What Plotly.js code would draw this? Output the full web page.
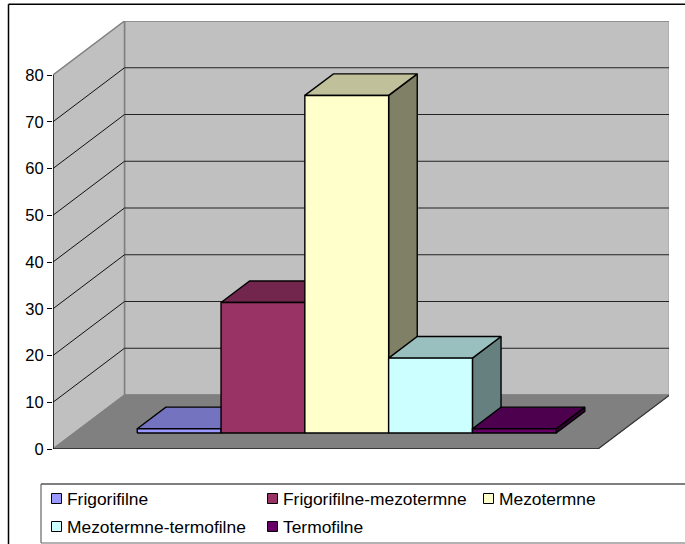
<!DOCTYPE html>
<html>
<head>
<meta charset="utf-8">
<script src="https://cdn.plot.ly/plotly-3.0.1.min.js"></script>
<style>html,body{margin:0;padding:0;background:#fff}#chart{width:685px;height:544px}</style>
</head>
<body>
<div id="chart"></div>
<script>
var categories = ['Frigorifilne', 'Frigorifilne-mezotermne', 'Mezotermne', 'Mezotermne-termofilne', 'Termofilne'];
var values = [0.9, 27.9, 72.2, 16, 0.9];
var frontColors = ['#9999FF', '#993366', '#FFFFCC', '#CCFFFF', '#660066'];
var topColors = ['#7373C0', '#73264D', '#C0C09A', '#9ABFBF', '#4D004D'];
var sideColors = ['#666680', '#662244', '#808066', '#668080', '#330033'];
var yTicks = [0, 10, 20, 30, 40, 50, 60, 70, 80];

// page geometry of the oblique projection
var W = 685, H = 544;
var ml = 53, mr = 16, mt = 21, mb = 95;
var pxPerValue = 4.675, pxPerBar = 83.8;
var depthX = 71.5 / pxPerBar, depthY = 54 / pxPerValue;
var floorW = 545 / pxPerBar, gapW = (floorW - categories.length) / 2;
var yMax = 80;
var rangeX = (W - ml - mr) / pxPerBar, rangeY = (H - mt - mb) / pxPerValue;
var barDepth0 = 0.297, barDepth1 = 0.697;

function proj(x, v, d) { return [x + d * depthX, v + d * depthY]; }
function poly(pts, fill, line, lw) {
  var p = pts.map(function (q) { return proj(q[0], q[1], q[2]); });
  p.push(p[0]);
  return {
    type: 'scatter', mode: 'lines', x: p.map(function (a) { return a[0]; }), y: p.map(function (a) { return a[1]; }),
    fill: 'toself', fillcolor: fill, line: { color: line, width: lw }, hoverinfo: 'skip', showlegend: false
  };
}
function seg(a, b, color, width) {
  var p = proj(a[0], a[1], a[2]), q = proj(b[0], b[1], b[2]);
  return { type: 'scatter', mode: 'lines', x: [p[0], q[0]], y: [p[1], q[1]], line: { color: color, width: width }, hoverinfo: 'skip', showlegend: false };
}

var traces = [];
// back wall, side wall, floor
traces.push(poly([[0, 0, 1], [floorW, 0, 1], [floorW, yMax, 1], [0, yMax, 1]], '#C0C0C0', '#808080', 1.5));
traces.push(poly([[0, 0, 0], [0, 0, 1], [0, yMax, 1], [0, yMax, 0]], '#C0C0C0', '#808080', 1.5));
traces.push(poly([[0, 0, 0], [floorW, 0, 0], [floorW, 0, 1], [0, 0, 1]], '#808080', '#808080', 1));
traces.push(seg([0, 0, 0], [floorW, 0, 0], '#222222', 1.5));
traces.push(seg([floorW, 0, 0], [floorW, 0, 1], '#333333', 1.2));
// gridlines
yTicks.slice(1, -1).forEach(function (t) {
  traces.push(seg([0, t, 0], [0, t, 1], '#111111', 1));
  traces.push(seg([0, t, 1], [floorW, t, 1], '#222222', 1.1));
});
// bars, left to right
values.forEach(function (v, i) {
  var x0 = gapW + i, x1 = x0 + 1, d0 = barDepth0, d1 = barDepth1;
  traces.push(poly([[x1, 0, d0], [x1, 0, d1], [x1, v, d1], [x1, v, d0]], sideColors[i], '#000000', 1.4));
  traces.push(poly([[x0, v, d0], [x1, v, d0], [x1, v, d1], [x0, v, d1]], topColors[i], '#000000', 1.4));
  var t = poly([[x0, 0, d0], [x1, 0, d0], [x1, v, d0], [x0, v, d0]], frontColors[i], '#000000', 1.4);
  t.name = categories[i];
  traces.push(t);
});
// value axis line
traces.push(seg([0, 0, 0], [0, yMax, 0], '#000000', 1.3));

function px(x) { return (x - ml) / (W - ml - mr); }
function py(y) { return 1 - (y - mt) / (H - mt - mb); }
function hline(x0, x1, y0, y1, color, width) {
  return { type: 'line', xref: 'paper', yref: 'paper', x0: px(x0), x1: px(x1), y0: py(y0), y1: py(y1), line: { color: color, width: width } };
}
var shapes = [
  hline(8.5, 690, 4.2, 4.2, '#000', 1.5),
  hline(8.5, 8.5, 4.2, 550, '#000', 1.5),
  hline(41, 690, 484, 484, '#000', 1),
  hline(41, 41, 484, 543, '#666', 1.2),
  hline(41, 690, 543, 543, '#666', 1.2)
];
var annotations = [];
var legendPos = [[51.5, 498.5], [267.5, 498.5], [483.5, 498.5], [51.5, 526.5], [267.5, 526.5]];
categories.forEach(function (c, i) {
  var lx = legendPos[i][0], ly = legendPos[i][1];
  shapes.push({ type: 'rect', xref: 'paper', yref: 'paper', x0: px(lx), x1: px(lx + 10), y0: py(ly - 5), y1: py(ly + 5), line: { color: '#000', width: 1 }, fillcolor: frontColors[i] });
  annotations.push({ xref: 'paper', yref: 'paper', x: px(lx + 15.5), y: py(ly), xanchor: 'left', yanchor: 'middle', text: c, showarrow: false, borderpad: 0, borderwidth: 0, font: { family: 'Liberation Sans, Arial, sans-serif', size: 17.4, color: '#000' } });
});

Plotly.newPlot('chart', traces, {
  width: W, height: H,
  margin: { l: ml, r: mr, t: mt, b: mb, pad: 0, autoexpand: false },
  paper_bgcolor: '#FFFFFF', plot_bgcolor: 'rgba(0,0,0,0)',
  showlegend: false,
  xaxis: { range: [0, rangeX], visible: false, fixedrange: true },
  yaxis: {
    range: [0, rangeY], tickmode: 'array', tickvals: yTicks, ticktext: yTicks.map(String),
    ticks: 'outside', ticklen: 5, tickwidth: 1, tickcolor: '#000', showgrid: false, zeroline: false, showline: false,
    tickfont: { family: 'Liberation Sans, Arial, sans-serif', size: 16.5, color: '#000' }, fixedrange: true
  },
  shapes: shapes, annotations: annotations
}, { displayModeBar: false, staticPlot: true });
</script>
</body>
</html>
